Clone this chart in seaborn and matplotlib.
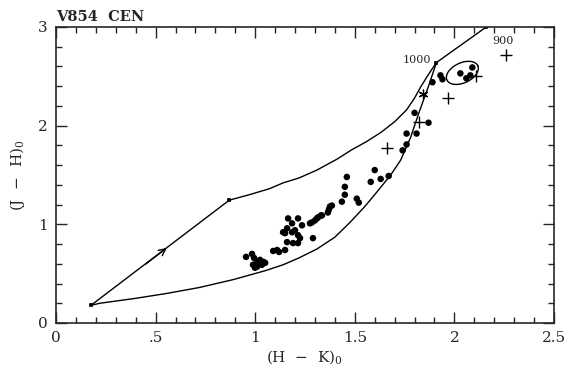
import numpy as np
import pandas as pd
import matplotlib
matplotlib.use("Agg")
import matplotlib.pyplot as plt
import seaborn as sns

# observed colours, dots
dot_hk = [0.954, 0.984, 0.994, 0.989, 1.009, 1.024, 1.04, 1.009, 1.034, 1.05, 0.999,
          1.09, 1.11, 1.12, 1.15, 1.16, 1.19, 1.215, 1.14, 1.16, 1.15, 1.165, 1.185,
          1.215, 1.185, 1.20, 1.235, 1.215, 1.225, 1.29, 1.275, 1.30, 1.315, 1.335,
          1.365, 1.375, 1.285, 1.31, 1.33, 1.37, 1.385, 1.435, 1.45, 1.45, 1.46,
          1.51, 1.52, 1.58, 1.60, 1.63, 1.67, 1.74, 1.76, 1.76, 1.81, 1.80, 1.87,
          1.89, 1.93, 1.94, 2.03, 2.06, 2.08, 2.09]
dot_jh = [0.67, 0.70, 0.66, 0.59, 0.62, 0.64, 0.62, 0.57, 0.59, 0.61, 0.56,
          0.73, 0.74, 0.72, 0.74, 0.82, 0.81, 0.81, 0.92, 0.96, 0.91, 1.06, 1.01,
          1.06, 0.92, 0.94, 0.99, 0.89, 0.86, 0.86, 1.01, 1.04, 1.07, 1.09,
          1.12, 1.18, 1.02, 1.06, 1.09, 1.15, 1.19, 1.23, 1.30, 1.38, 1.48,
          1.26, 1.22, 1.43, 1.55, 1.46, 1.49, 1.75, 1.81, 1.92, 1.92, 2.13, 2.03,
          2.44, 2.51, 2.47, 2.53, 2.48, 2.51, 2.59]

# plus signs and the star
plus_hk = [1.66, 1.82, 1.97, 2.11, 2.26]
plus_jh = [1.77, 2.04, 2.28, 2.50, 2.72]
star_hk = [1.84]
star_jh = [2.32]

# model track (upper and lower branch)
upper_hk = [0.176, 0.87, 0.97, 1.07, 1.14, 1.22, 1.31, 1.41, 1.48, 1.56, 1.63,
            1.70, 1.76, 1.80, 1.83, 1.87, 1.91, 2.16]
upper_jh = [0.18, 1.245, 1.30, 1.36, 1.42, 1.47, 1.55, 1.66, 1.75, 1.84, 1.93,
            2.04, 2.16, 2.28, 2.39, 2.52, 2.64, 3.0]
lower_hk = [0.176, 0.22, 0.40, 0.557, 0.72, 0.89, 1.05, 1.14, 1.22, 1.31, 1.40,
            1.476, 1.55, 1.62, 1.68, 1.73, 1.78, 1.82, 1.87, 1.91]
lower_jh = [0.18, 0.20, 0.25, 0.30, 0.36, 0.44, 0.53, 0.59, 0.66, 0.75, 0.87,
            1.02, 1.18, 1.35, 1.50, 1.65, 1.88, 2.12, 2.40, 2.64]
node_hk = [0.176, 0.87, 1.91, 2.16]
node_jh = [0.18, 1.245, 2.64, 3.0]

sns.set_style("ticks")
plt.rcParams['font.family'] = ['DejaVu Serif']

fig = plt.figure(figsize=(5.7, 3.67), dpi=100)
ax = fig.add_axes([56 / 570, 1 - 323 / 367, 498 / 570, 296 / 367])

sns.lineplot(x=upper_hk, y=upper_jh, sort=False, color="black", lw=1.0, ax=ax)
sns.lineplot(x=lower_hk, y=lower_jh, sort=False, color="black", lw=1.0, ax=ax)
sns.scatterplot(x=node_hk, y=node_jh, color="black", s=6, marker="s", ax=ax)
ax.annotate("", xy=(0.556, 0.76), xytext=(0.45, 0.597),
            arrowprops=dict(arrowstyle="->", color="black", lw=1.0,
                            mutation_scale=12, shrinkA=0, shrinkB=0))

# ellipse around the last points (pixel-ish semi axes)
t = np.linspace(0, 2 * np.pi, 100)
cx, cy, a, b, th = 2.04, 2.535, 17.0, 10.0, np.radians(25)
ex = cx + (a * np.cos(t) * np.cos(th) - b * np.sin(t) * np.sin(th)) / 199.2
ey = cy + (a * np.cos(t) * np.sin(th) + b * np.sin(t) * np.cos(th)) / 98.7
ax.plot(ex, ey, color="black", lw=1.0)

sns.scatterplot(x=dot_hk, y=dot_jh, color="black", s=22, edgecolor="none", ax=ax)
sns.scatterplot(x=plus_hk, y=plus_jh, color="black", marker="+", s=80, linewidth=1.0, ax=ax)
sns.scatterplot(x=star_hk, y=star_jh, color="black", marker=(6, 2, 0), s=40, linewidth=0.9, ax=ax)

ax.text(1.885, 2.67, "1000", ha="right", va="center", fontsize=8)
ax.text(2.19, 2.86, "900", ha="left", va="center", fontsize=8)

ax.set_xlim(0, 2.5)
ax.set_ylim(0, 3)
ax.set_xticks([0, 0.5, 1, 1.5, 2, 2.5])
ax.set_xticklabels(["0", ".5", "1", "1.5", "2", "2.5"])
ax.set_yticks([0, 1, 2, 3])
ax.set_xticks(np.arange(0, 2.51, 0.1), minor=True)
ax.set_yticks(np.arange(0, 3.01, 0.2), minor=True)
ax.tick_params(which="both", direction="in", top=True, right=True, labelsize=11, width=1)
ax.tick_params(which="major", length=8, pad=6)
ax.tick_params(which="minor", length=4)
for s in ax.spines.values():
    s.set_linewidth(1.2)

ax.set_xlabel("(H  \u2212  K)$_\\mathregular{0}$", fontsize=11, labelpad=2)
ax.set_ylabel("(J  \u2212  H)$_\\mathregular{0}$", fontsize=11, labelpad=8)
ax.text(0.0, 3.03, "V854  CEN", fontsize=10.5, fontweight="bold", ha="left", va="bottom")

fig.savefig("out.png", dpi=100)
